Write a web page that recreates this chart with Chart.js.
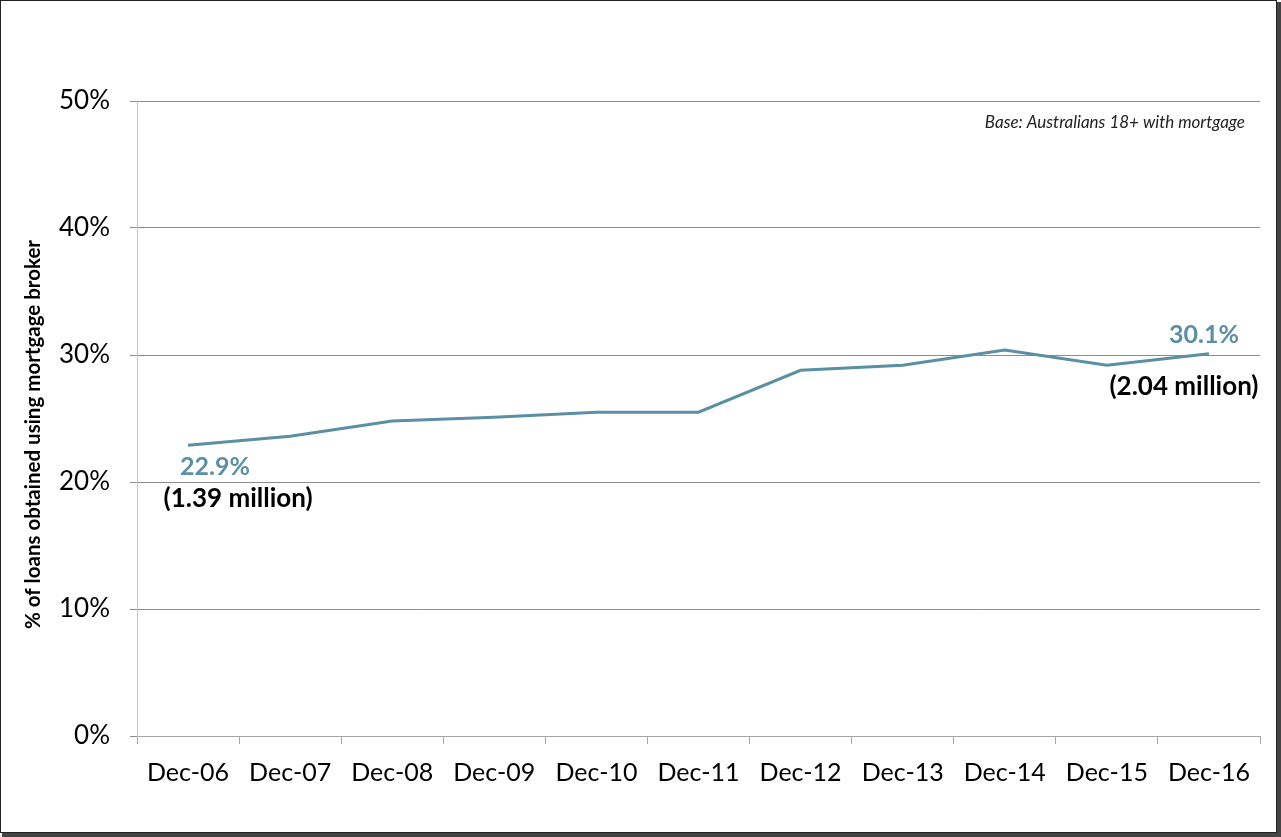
<!DOCTYPE html>
<html>
<head>
<meta charset="utf-8">
<script src="https://cdn.jsdelivr.net/npm/chart.js@4/dist/chart.umd.min.js"></script>
<style>
  html, body { margin: 0; padding: 0; background: #fff; }
  #wrap { position: relative; width: 1281px; height: 837px; }
</style>
</head>
<body>
<div id="wrap"><canvas id="brokerChart" width="1281" height="837"></canvas></div>
<script>
const categories = ['Dec-06', 'Dec-07', 'Dec-08', 'Dec-09', 'Dec-10', 'Dec-11', 'Dec-12', 'Dec-13', 'Dec-14', 'Dec-15', 'Dec-16'];
const brokerShare = [22.9, 23.6, 24.8, 25.1, 25.5, 25.5, 28.8, 29.2, 30.4, 29.2, 30.1];
const yTicks = [0, 10, 20, 30, 40, 50];
const pointNotes = [
  { index: 0, value: '22.9%', people: '(1.39 million)' },
  { index: 10, value: '30.1%', people: '(2.04 million)' },
];
const yTitle = '% of loans obtained using mortgage broker';
const baseNote = 'Base: Australians 18+ with mortgage';

const lineColor = '#5B8FA3';
const font = 'Lato, "Open Sans", sans-serif';

// annotations, axis title (sits a bit below centre in the original) + frame
const notesPlugin = {
  id: 'notes',
  afterDatasetsDraw(chart) {
    const { ctx, scales: { x, y }, chartArea } = chart;
    ctx.save();
    ctx.textBaseline = 'middle';
    ctx.textAlign = 'center';

    const first = pointNotes[0];
    let px = x.getPixelForValue(first.index);
    let py = y.getPixelForValue(brokerShare[first.index]);
    ctx.font = 'bold 25px ' + font;
    ctx.fillStyle = lineColor;
    ctx.fillText(first.value, px + 27, py + 22);
    ctx.font = 'bold 26px ' + font;
    ctx.fillStyle = '#000';
    ctx.fillText(first.people, px + 50, py + 53);

    const last = pointNotes[1];
    px = x.getPixelForValue(last.index);
    py = y.getPixelForValue(brokerShare[last.index]);
    ctx.font = 'bold 25px ' + font;
    ctx.fillStyle = lineColor;
    ctx.fillText(last.value, px - 5, py - 19);
    ctx.font = 'bold 26px ' + font;
    ctx.fillStyle = '#000';
    ctx.fillText(last.people, px - 25, py + 33);

    ctx.font = 'italic 17px ' + font;
    ctx.textAlign = 'right';
    ctx.fillStyle = '#222';
    ctx.fillText(baseNote, chartArea.right - 15, chartArea.top + 22);

    ctx.translate(33, (chartArea.top + chartArea.bottom) / 2 + 16);
    ctx.rotate(-Math.PI / 2);
    ctx.textAlign = 'center';
    ctx.font = 'bold 20.5px ' + font;
    ctx.fillStyle = '#000';
    ctx.fillText(yTitle, 0, 0);
    ctx.restore();
  },
  afterDraw(chart) {
    const { ctx } = chart;
    ctx.save();
    ctx.strokeStyle = '#222';
    ctx.lineWidth = 1;
    ctx.strokeRect(0.5, 0.5, 1276, 832);
    ctx.fillStyle = '#444';
    ctx.fillRect(1277, 2, 4, 835);
    ctx.fillRect(2, 833, 1279, 4);
    ctx.restore();
  }
};

new Chart(document.getElementById('brokerChart').getContext('2d'), {
  type: 'line',
  data: {
    labels: categories,
    datasets: [{
      data: brokerShare,
      borderColor: lineColor,
      borderWidth: 3,
      pointRadius: 0,
      tension: 0,
      fill: false,
    }],
  },
  options: {
    responsive: false,
    animation: false,
    layout: { padding: { left: 0, right: 21, top: 101, bottom: 0 } },
    plugins: { legend: { display: false }, tooltip: { enabled: false } },
    scales: {
      x: {
        offset: true,
        grid: { offset: true, drawOnChartArea: false, drawTicks: true, tickLength: 8, color: '#a6a6a6' },
        border: { color: '#a6a6a6' },
        ticks: { color: '#000', font: { family: font, size: 25 }, padding: 14, maxRotation: 0 },
        afterFit: s => { s.height = 101; },
      },
      y: {
        min: 0,
        max: 50,
        afterBuildTicks: s => { s.ticks = yTicks.map(v => ({ value: v })); },
        grid: { color: '#8c8c8c', tickLength: 7 },
        border: { color: '#c8c8c8' },
        ticks: {
          color: '#000',
          font: { family: font, size: 26 },
          padding: 20,
          callback: v => v + '%',
        },
        afterFit: s => { s.width = 137; },
      },
    },
  },
  plugins: [notesPlugin],
});
</script>
</body>
</html>
